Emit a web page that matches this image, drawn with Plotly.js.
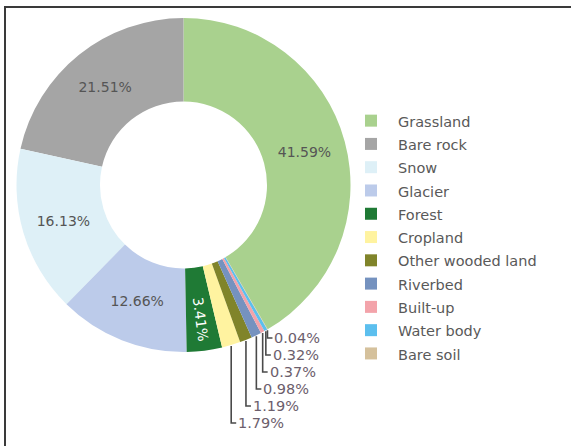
<!DOCTYPE html>
<html><head><meta charset="utf-8">
<script src="https://cdn.plot.ly/plotly-3.0.1.min.js"></script>
<style>
html,body{margin:0;padding:0;background:#fff;}
#wrap{position:relative;width:571px;height:446px;overflow:hidden;background:#fff;}
#chart{position:absolute;left:0;top:0;width:571px;height:446px;}
#frame{position:absolute;left:4px;top:6px;width:620px;height:520px;border:2px solid #3a3a3a;box-sizing:border-box;pointer-events:none;}
</style></head><body>
<div id="wrap"><div id="chart"></div><div id="frame"></div></div>
<script>
// ---- data ----
const categories = ['Grassland','Bare rock','Snow','Glacier','Forest','Cropland','Other wooded land','Riverbed','Built-up','Water body','Bare soil'];
const shares = [41.59, 21.51, 16.13, 12.66, 3.41, 1.79, 1.19, 0.98, 0.37, 0.32, 0.04];
const sliceColors = ['#a9d18e','#a5a5a5','#def0f7','#bccbea','#1f7a35','#fff3a0','#80842a','#7592bf','#f3a3aa','#5cbfee','#d5c19c'];
const insideIdx = [0,1,2,3,4];

// ---- geometry (layout) ----
const W = 571, H = 446;
const cx = 183.5, cy = 185, R = 167;
const labelTop = 338, labelStep = 17;

const textpos = categories.map((c,i)=> insideIdx.includes(i) ? 'inside' : 'none');
const textcol = categories.map((c,i)=> i===4 ? '#ffffff' : '#555555');
const legendLabels = categories.map(c=>`<span style="font-size:14.5px">${c}</span>`);

const trace = {
  type: 'pie',
  labels: legendLabels,
  values: shares,
  hole: 0.5,
  sort: false,
  direction: 'counterclockwise',
  rotation: 0,
  marker: {colors: sliceColors, line: {width: 0}},
  texttemplate: '%{value:.2f}%',
  textposition: textpos,
  insidetextorientation: 'auto',
  insidetextfont: {family: 'DejaVu Sans', size: 14, color: textcol},
  domain: {x: [(cx-R)/W, (cx+R)/W], y: [1-(cy+R)/H, 1-(cy-R)/H]},
  hoverinfo: 'label+value'
};

// leader lines + outside labels for small slices, computed from values
const total = shares.reduce((a,b)=>a+b,0);
const shapes = [], annotations = [];
let accCCW = 0;
const mid = [];
shares.forEach((v,i)=>{
  const a = v/total*360;
  if(i===0){ mid.push(a/2); }
  else { mid.push(360 - (accCCW + a/2)); accCCW += a; }
});
const smallIdx = categories.map((c,i)=>i).filter(i=>!insideIdx.includes(i));
smallIdx.slice().reverse().forEach((i,k)=>{
  const th = mid[i]*Math.PI/180;
  const x0 = cx + R*Math.sin(th);
  const y0 = cy - R*Math.cos(th) + 1;
  const y1 = labelTop + k*labelStep;
  const x1 = x0 + 5;
  const px = x=>x/W, py = y=>1-y/H;
  shapes.push({type:'path', xref:'paper', yref:'paper',
    path: `M${px(x0)},${py(y0)} L${px(x0)},${py(y1)} L${px(x1)},${py(y1)}`,
    line:{color:'#4a4a4a', width:1.6}});
  annotations.push({xref:'paper', yref:'paper', x:px(x1), y:py(y1), xanchor:'left', yanchor:'middle',
    text: shares[i].toFixed(2)+'%', showarrow:false,
    font:{family:'DejaVu Sans', size:14.5, color:'#6c5e6c'}});
});

const layout = {
  width: W, height: H,
  margin: {l:0, r:0, t:0, b:0},
  paper_bgcolor: '#ffffff',
  showlegend: true,
  legend: {x: 344/W, y: 1-104/H, xanchor:'left', yanchor:'top', itemwidth: 44,
    font:{family:'DejaVu Sans', size:15.6, color:'#595959'}, bgcolor:'rgba(0,0,0,0)'},
  shapes: shapes,
  annotations: annotations,
  font: {family:'DejaVu Sans', color:'#555555'}
};

Plotly.newPlot('chart', [trace], layout, {staticPlot:true, displayModeBar:false});
</script>
</body></html>
